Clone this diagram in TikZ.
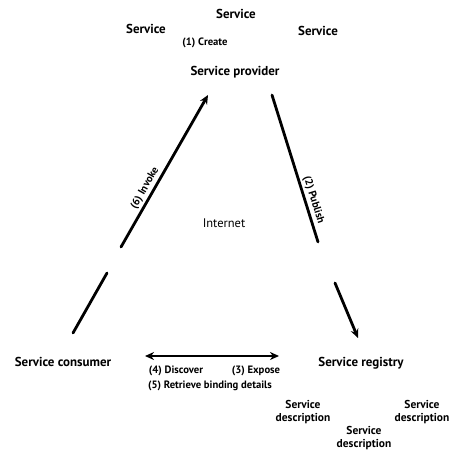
\documentclass[tikz,border=0pt]{standalone}
\usepackage{fontspec}
\setmainfont{PT Sans}
\usetikzlibrary{arrows.meta}
\begin{document}
\begin{tikzpicture}[x=1bp,y=-1bp,
  txt/.style={font=\bfseries\fontsize{13}{14}\selectfont, inner sep=1pt},
  small/.style={font=\bfseries\fontsize{10.7}{11}\selectfont, inner sep=1pt},
  desc/.style={font=\bfseries\fontsize{11.5}{12.5}\selectfont, inner sep=1pt, align=center},
  conn/.style={line width=2.8bp, line cap=round},
  arr/.style={conn, -{Stealth[length=9bp,width=8bp]}},
  darr/.style={conn, {Stealth[length=9bp,width=8bp]}-{Stealth[length=9bp,width=8bp]}}]
\useasboundingbox (0,0) rectangle (452,454);
\node[txt] (svc1) at (236,14) {Service};
\node[txt] (svc2) at (146,29) {Service};
\node[txt] (svc3) at (318,31) {Service};
\node[small] (create) at (205,43) {(1) Create};
\node[txt] (prov) at (235,72) {Service provider};
\node[font=\fontsize{12.5}{13}\selectfont, inner sep=1pt] (inet) at (224,223) {Internet};
\node[txt] (cons) at (63,362) {Service consumer};
\node[txt] (reg) at (361,363) {Service registry};
\node[small] (disc) at (176,371) {(4) Discover};
\node[small] (expose) at (256,371) {(3) Expose};
\node[small] (retr) at (210,386) {(5) Retrieve binding details};
\node[desc] (d1) at (303,412) {Service\\description};
\node[desc] (d2) at (422,412) {Service\\description};
\node[desc] (d3) at (364,438) {Service\\description};
% invoke
\coordinate (i1) at (73,333);
\coordinate (i2) at (107,273);
\coordinate (i3) at (121,247);
\coordinate (i4) at (208,95);
\draw[conn] (i1) -- (i2);
\draw[arr] (i3) -- (i4) node[pos=0.36, sloped, above=1bp, small] (invk) {(6) Invoke};
% publish
\coordinate (p1) at (272,95);
\coordinate (p2) at (318,242);
\coordinate (p3) at (335,283);
\coordinate (p4) at (358,338);
\draw[conn] (p1) -- (p2) node[pos=0.73, sloped, above=1bp, small] (publ) {(2) Publish};
\draw[arr] (p3) -- (p4);
% discover / expose
\coordinate (h1) at (145,356);
\coordinate (h2) at (279,356);
\draw[darr] (h1) -- (h2);
\end{tikzpicture}
\end{document}
